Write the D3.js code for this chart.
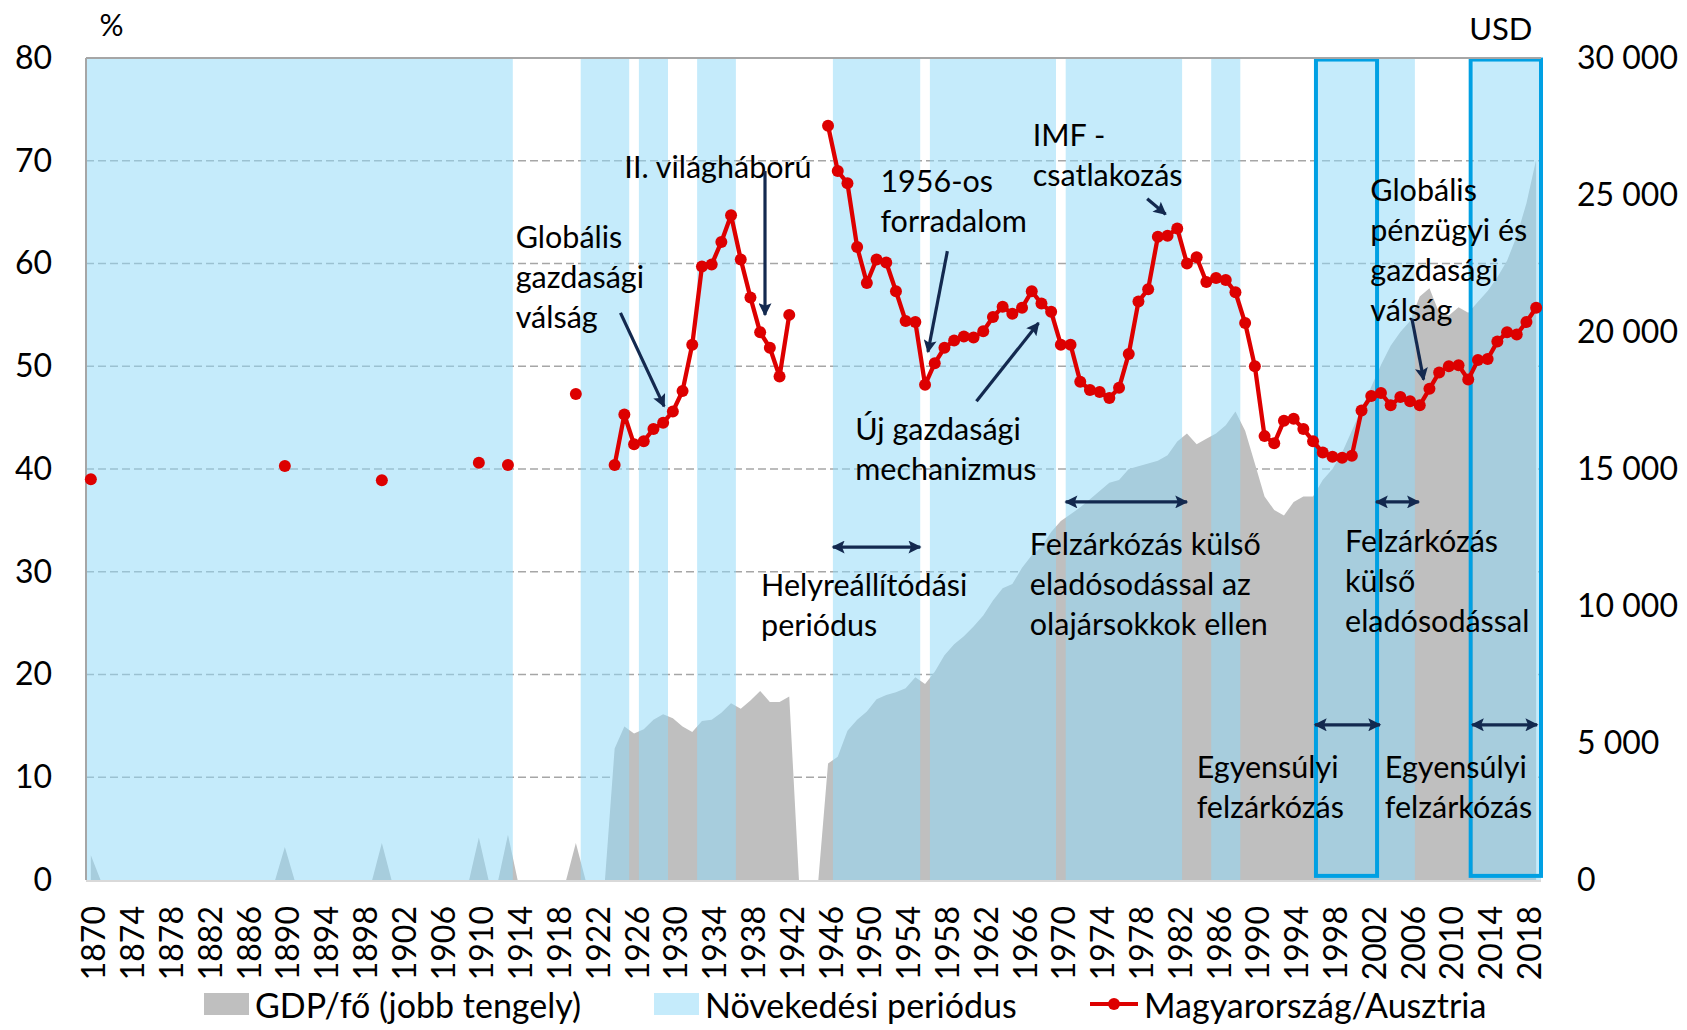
<!DOCTYPE html>
<html>
<head>
<meta charset="utf-8">
<script src="https://cdn.jsdelivr.net/npm/d3@7"></script>
<style>
  body { margin: 0; background: #fff; }
  text { font-family: Lato, "Open Sans", sans-serif; fill: #000; }
</style>
</head>
<body>
<svg id="chart" width="1687" height="1030"></svg>
<script>
const _ = null
const firstYear = 1870
const lastYear = 2019

// Magyarország/Ausztria, % (1870..2019)
const ratio = [
  39.0,_,_,_,_,_,_,_,_,_,
  _,_,_,_,_,_,_,_,_,_,
  40.3,_,_,_,_,_,_,_,_,_,
  38.9,_,_,_,_,_,_,_,_,_,
  40.6,_,_,40.4,_,_,_,_,_,_,
  47.3,_,_,_,40.4,45.3,42.4,42.7,43.9,44.5,
  45.6,47.6,52.1,59.7,59.9,62.1,64.7,60.4,56.7,53.3,
  51.8,49.0,55.0,_,_,_,73.4,69.0,67.8,61.6,
  58.1,60.4,60.1,57.3,54.4,54.3,48.2,50.3,51.8,52.5,
  52.9,52.8,53.4,54.8,55.8,55.1,55.7,57.3,56.1,55.3,
  52.1,52.1,48.5,47.7,47.5,46.9,47.9,51.2,56.3,57.5,
  62.6,62.7,63.4,60.0,60.6,58.2,58.6,58.4,57.2,54.2,
  50.0,43.2,42.5,44.7,44.9,43.9,42.7,41.6,41.2,41.1,
  41.3,45.7,47.1,47.4,46.2,47.0,46.6,46.2,47.8,49.4,
  50.0,50.1,48.7,50.6,50.7,52.4,53.3,53.1,54.3,55.7
]

// GDP/fő, USD (jobb tengely) (1870..2019)
const gdp = [
  900,0,0,0,0,0,0,0,0,0,
  0,0,0,0,0,0,0,0,0,0,
  1200,0,0,0,0,0,0,0,0,0,
  1350,0,0,0,0,0,0,0,0,0,
  1550,0,0,1650,0,0,0,0,0,0,
  1350,0,0,0,4800,5600,5350,5500,5850,6050,
  5900,5600,5400,5800,5850,6100,6450,6250,6550,6900,
  6500,6500,6700,0,0,0,4250,4500,5450,5850,
  6150,6600,6750,6850,7000,7400,7150,7600,8200,8600,
  8900,9250,9650,10200,10650,10800,11400,11850,12150,12700,
  13100,13350,13600,13900,14200,14500,14600,15000,15100,15200,
  15300,15500,16000,16300,15900,16100,16300,16600,17100,16400,
  15200,14000,13500,13300,13800,14000,14000,14600,15000,15600,
  16400,17200,18000,18800,19500,20000,20400,21300,21600,20700,
  20600,20900,20700,21100,21500,22000,22600,23500,24700,26300
]

// Növekedési periódusok (első és utolsó év)
const growthPeriods = [
  [1870, 1913], [1921, 1925], [1927, 1929], [1933, 1936], [1947, 1955],
  [1957, 1969], [1971, 1982], [1986, 1988], [1997, 2006], [2013, 2019]
]
// kiemelt (keretezett) időszakok
const framedPeriods = [[1996.8, 2003.1], [2012.75, 2020]]

const leftTicks = [0, 10, 20, 30, 40, 50, 60, 70, 80]
const rightTicks = [0, 5000, 10000, 15000, 20000, 25000, 30000]
const legendLabels = ["GDP/fő (jobb tengely)", "Növekedési periódus", "Magyarország/Ausztria"]

// annotations: text anchored at (year, % value); arrows between (year, %) pairs
const notes = [
  { lines: ["II. világháború"], at: [1925.5, 68.3] },
  { lines: ["Globális", "gazdasági", "válság"], at: [1914.3, 61.5] },
  { lines: ["1956-os", "forradalom"], at: [1951.9, 67.0] },
  { lines: ["IMF -", "csatlakozás"], at: [1967.6, 71.4] },
  { lines: ["Új gazdasági", "mechanizmus"], at: [1949.3, 42.8] },
  { lines: ["Helyreállítódási", "periódus"], at: [1939.6, 27.6] },
  { lines: ["Felzárkózás külső", "eladósodással az", "olajársokkok ellen"], at: [1967.3, 31.6] },
  { lines: ["Felzárkózás", "külső", "eladósodással"], at: [1999.8, 31.9] },
  { lines: ["Globális", "pénzügyi és", "gazdasági", "válság"], at: [2002.4, 66.1] },
  { lines: ["Egyensúlyi", "felzárkózás"], at: [1984.5, 9.9] },
  { lines: ["Egyensúlyi", "felzárkózás"], at: [2003.9, 9.9] }
]
const arrows = [
  { from: [1940.0, 69.0], to: [1940.0, 55.0] },
  { from: [1925.1, 55.2], to: [1929.6, 46.1] },
  { from: [1958.8, 61.2], to: [1956.8, 51.4] },
  { from: [1979.4, 66.3], to: [1981.3, 64.8] },
  { from: [1961.8, 46.6], to: [1968.2, 54.2] },
  { from: [2006.7, 54.6], to: [2007.9, 48.7] },
  { from: [1947.0, 32.4], to: [1956.0, 32.4], both: true },
  { from: [1971.0, 36.8], to: [1983.5, 36.8], both: true },
  { from: [2003.0, 36.8], to: [2007.4, 36.8], both: true },
  { from: [1996.7, 15.1], to: [2003.4, 15.1], both: true },
  { from: [2012.9, 15.1], to: [2019.6, 15.1], both: true }
]

const years = d3.range(firstYear, lastYear + 1)
const rows = years.map((y, i) => ({ year: y, ratio: ratio[i], gdp: gdp[i] }))

const plotLeft = 86, plotRight = 1541, plotTop = 58, plotBottom = 880
const svg = d3.select("#chart")

const x = d3.scaleBand().domain(years).range([plotLeft, plotRight]).padding(0)
const xc = d => x(d) + x.bandwidth() / 2
const xYear = d3.scaleLinear().domain([firstYear, lastYear + 1]).range([plotLeft, plotRight])
const yL = d3.scaleLinear().domain([0, 80]).range([plotBottom, plotTop])
const yR = d3.scaleLinear().domain([0, 30000]).range([plotBottom, plotTop])

const navy = "#13294f"
const defs = svg.append("defs")
defs.append("marker")
  .attr("id", "head")
  .attr("viewBox", "0 0 10 10")
  .attr("refX", 9).attr("refY", 5)
  .attr("markerUnits", "userSpaceOnUse")
  .attr("markerWidth", 15).attr("markerHeight", 13)
  .attr("orient", "auto-start-reverse")
  .append("path")
  .attr("d", "M0,0 L10,5 L0,10 L2,5 z")
  .attr("fill", navy)

// gridlines
svg.append("g")
  .selectAll("line")
  .data(leftTicks.filter(t => t > 0 && t < 80))
  .join("line")
  .attr("x1", plotLeft).attr("x2", plotRight)
  .attr("y1", d => yL(d)).attr("y2", d => yL(d))
  .attr("stroke", "#a6a6a6")
  .attr("stroke-width", 1.5)
  .attr("stroke-dasharray", "8,4")

// GDP area
svg.append("path")
  .datum(rows)
  .attr("fill", "#bfbfbf")
  .attr("d", d3.area()
    .x(d => xc(d.year))
    .y0(plotBottom)
    .y1(d => yR(d.gdp)))

// growth periods
svg.append("g")
  .selectAll("rect")
  .data(growthPeriods)
  .join("rect")
  .attr("x", d => x(d[0]))
  .attr("width", d => x(d[1]) + x.bandwidth() - x(d[0]))
  .attr("y", plotTop)
  .attr("height", plotBottom - plotTop)
  .attr("fill", "rgb(145,217,247)")
  .attr("fill-opacity", 0.53)

// frames
svg.append("g")
  .selectAll("rect")
  .data(framedPeriods)
  .join("rect")
  .attr("x", d => xYear(d[0]))
  .attr("width", d => xYear(d[1]) - xYear(d[0]))
  .attr("y", yL(79.85))
  .attr("height", yL(0.4) - yL(79.85))
  .attr("fill", "none")
  .attr("stroke", "#00a0e3")
  .attr("stroke-width", 4)

// plot border
svg.append("line").attr("x1", plotLeft).attr("x2", plotRight).attr("y1", plotTop).attr("y2", plotTop)
  .attr("stroke", "#a6a6a6").attr("stroke-width", 2)
svg.append("line").attr("x1", plotLeft).attr("x2", plotLeft).attr("y1", plotTop).attr("y2", plotBottom)
  .attr("stroke", "#a6a6a6").attr("stroke-width", 2)
svg.append("line").attr("x1", plotLeft).attr("x2", plotRight).attr("y1", plotBottom + 1).attr("y2", plotBottom + 1)
  .attr("stroke", "#d9d9d9").attr("stroke-width", 2)

// ratio line
const red = "#dd0000"
svg.append("path")
  .datum(rows)
  .attr("fill", "none")
  .attr("stroke", red)
  .attr("stroke-width", 4.3)
  .attr("stroke-linejoin", "round")
  .attr("d", d3.line()
    .defined(d => d.ratio != null)
    .x(d => xc(d.year))
    .y(d => yL(d.ratio)))
svg.append("g")
  .selectAll("circle")
  .data(rows.filter(d => d.ratio != null))
  .join("circle")
  .attr("cx", d => xc(d.year))
  .attr("cy", d => yL(d.ratio))
  .attr("r", 6)
  .attr("fill", red)

// axes
const axisFont = 32
const yAxisL = svg.append("g")
  .attr("transform", `translate(${plotLeft},0)`)
  .call(d3.axisLeft(yL).tickValues(leftTicks).tickSize(0).tickPadding(34))
yAxisL.select(".domain").remove()
yAxisL.selectAll("text").style("font-size", axisFont + "px").attr("fill", "#000")

const yAxisR = svg.append("g")
  .attr("transform", `translate(${plotRight},0)`)
  .call(d3.axisRight(yR).tickValues(rightTicks).tickSize(0).tickPadding(36)
    .tickFormat(d => d3.format(",")(d).replace(/,/g, " ")))
yAxisR.select(".domain").remove()
yAxisR.selectAll("text").style("font-size", axisFont + "px").attr("fill", "#000")

const xAxis = svg.append("g")
  .attr("transform", `translate(0,${plotBottom})`)
  .call(d3.axisBottom(x).tickValues(years.filter(y => (y - firstYear) % 4 === 0)).tickSize(0))
xAxis.select(".domain").remove()
xAxis.selectAll("text")
  .style("font-size", "32px")
  .attr("fill", "#000")
  .attr("text-anchor", "end")
  .attr("dy", null)
  .attr("transform", "translate(2,26) rotate(-90)")
  .attr("x", 0).attr("y", 0)
  .attr("dominant-baseline", "central")

// axis titles
svg.append("text").attr("x", xYear(1871.4)).attr("y", 36).style("font-size", "30px").text("%")
svg.append("text").attr("x", xYear(2012.6)).attr("y", 40).style("font-size", "31px").text("USD")

// annotations
const noteFont = 30.5
notes.forEach(n => {
  const t = svg.append("text")
    .attr("x", xYear(n.at[0]))
    .attr("y", yL(n.at[1]))
    .style("font-size", noteFont + "px")
    .attr("fill", "#000")
  n.lines.forEach((line, i) => {
    t.append("tspan")
      .attr("x", xYear(n.at[0]))
      .attr("dy", i === 0 ? 0 : 40)
      .text(line)
  })
})
svg.append("g")
  .selectAll("line")
  .data(arrows)
  .join("line")
  .attr("x1", d => xYear(d.from[0])).attr("y1", d => yL(d.from[1]))
  .attr("x2", d => xYear(d.to[0])).attr("y2", d => yL(d.to[1]))
  .attr("stroke", navy)
  .attr("stroke-width", 3.2)
  .attr("marker-end", "url(#head)")
  .attr("marker-start", d => d.both ? "url(#head)" : null)

// legend
const legend = svg.append("g").attr("transform", "translate(0,1004)")
const legendX = [204, 654, 1090]
legend.append("rect").attr("x", legendX[0]).attr("y", -11).attr("width", 45).attr("height", 22).attr("fill", "#bfbfbf")
legend.append("rect").attr("x", legendX[1]).attr("y", -11).attr("width", 45).attr("height", 22).attr("fill", "#c5ebfb")
legend.append("line").attr("x1", legendX[2]).attr("x2", legendX[2] + 48).attr("y1", 0).attr("y2", 0)
  .attr("stroke", red).attr("stroke-width", 4)
legend.append("circle").attr("cx", legendX[2] + 24).attr("cy", 0).attr("r", 6).attr("fill", red)
legend.selectAll("text.lab")
  .data(legendLabels)
  .join("text")
  .attr("class", "lab")
  .attr("x", (d, i) => legendX[i] + (i === 2 ? 54 : 51))
  .attr("y", 0)
  .attr("dominant-baseline", "central")
  .style("font-size", "34px")
  .text(d => d)
</script>
</body>
</html>
